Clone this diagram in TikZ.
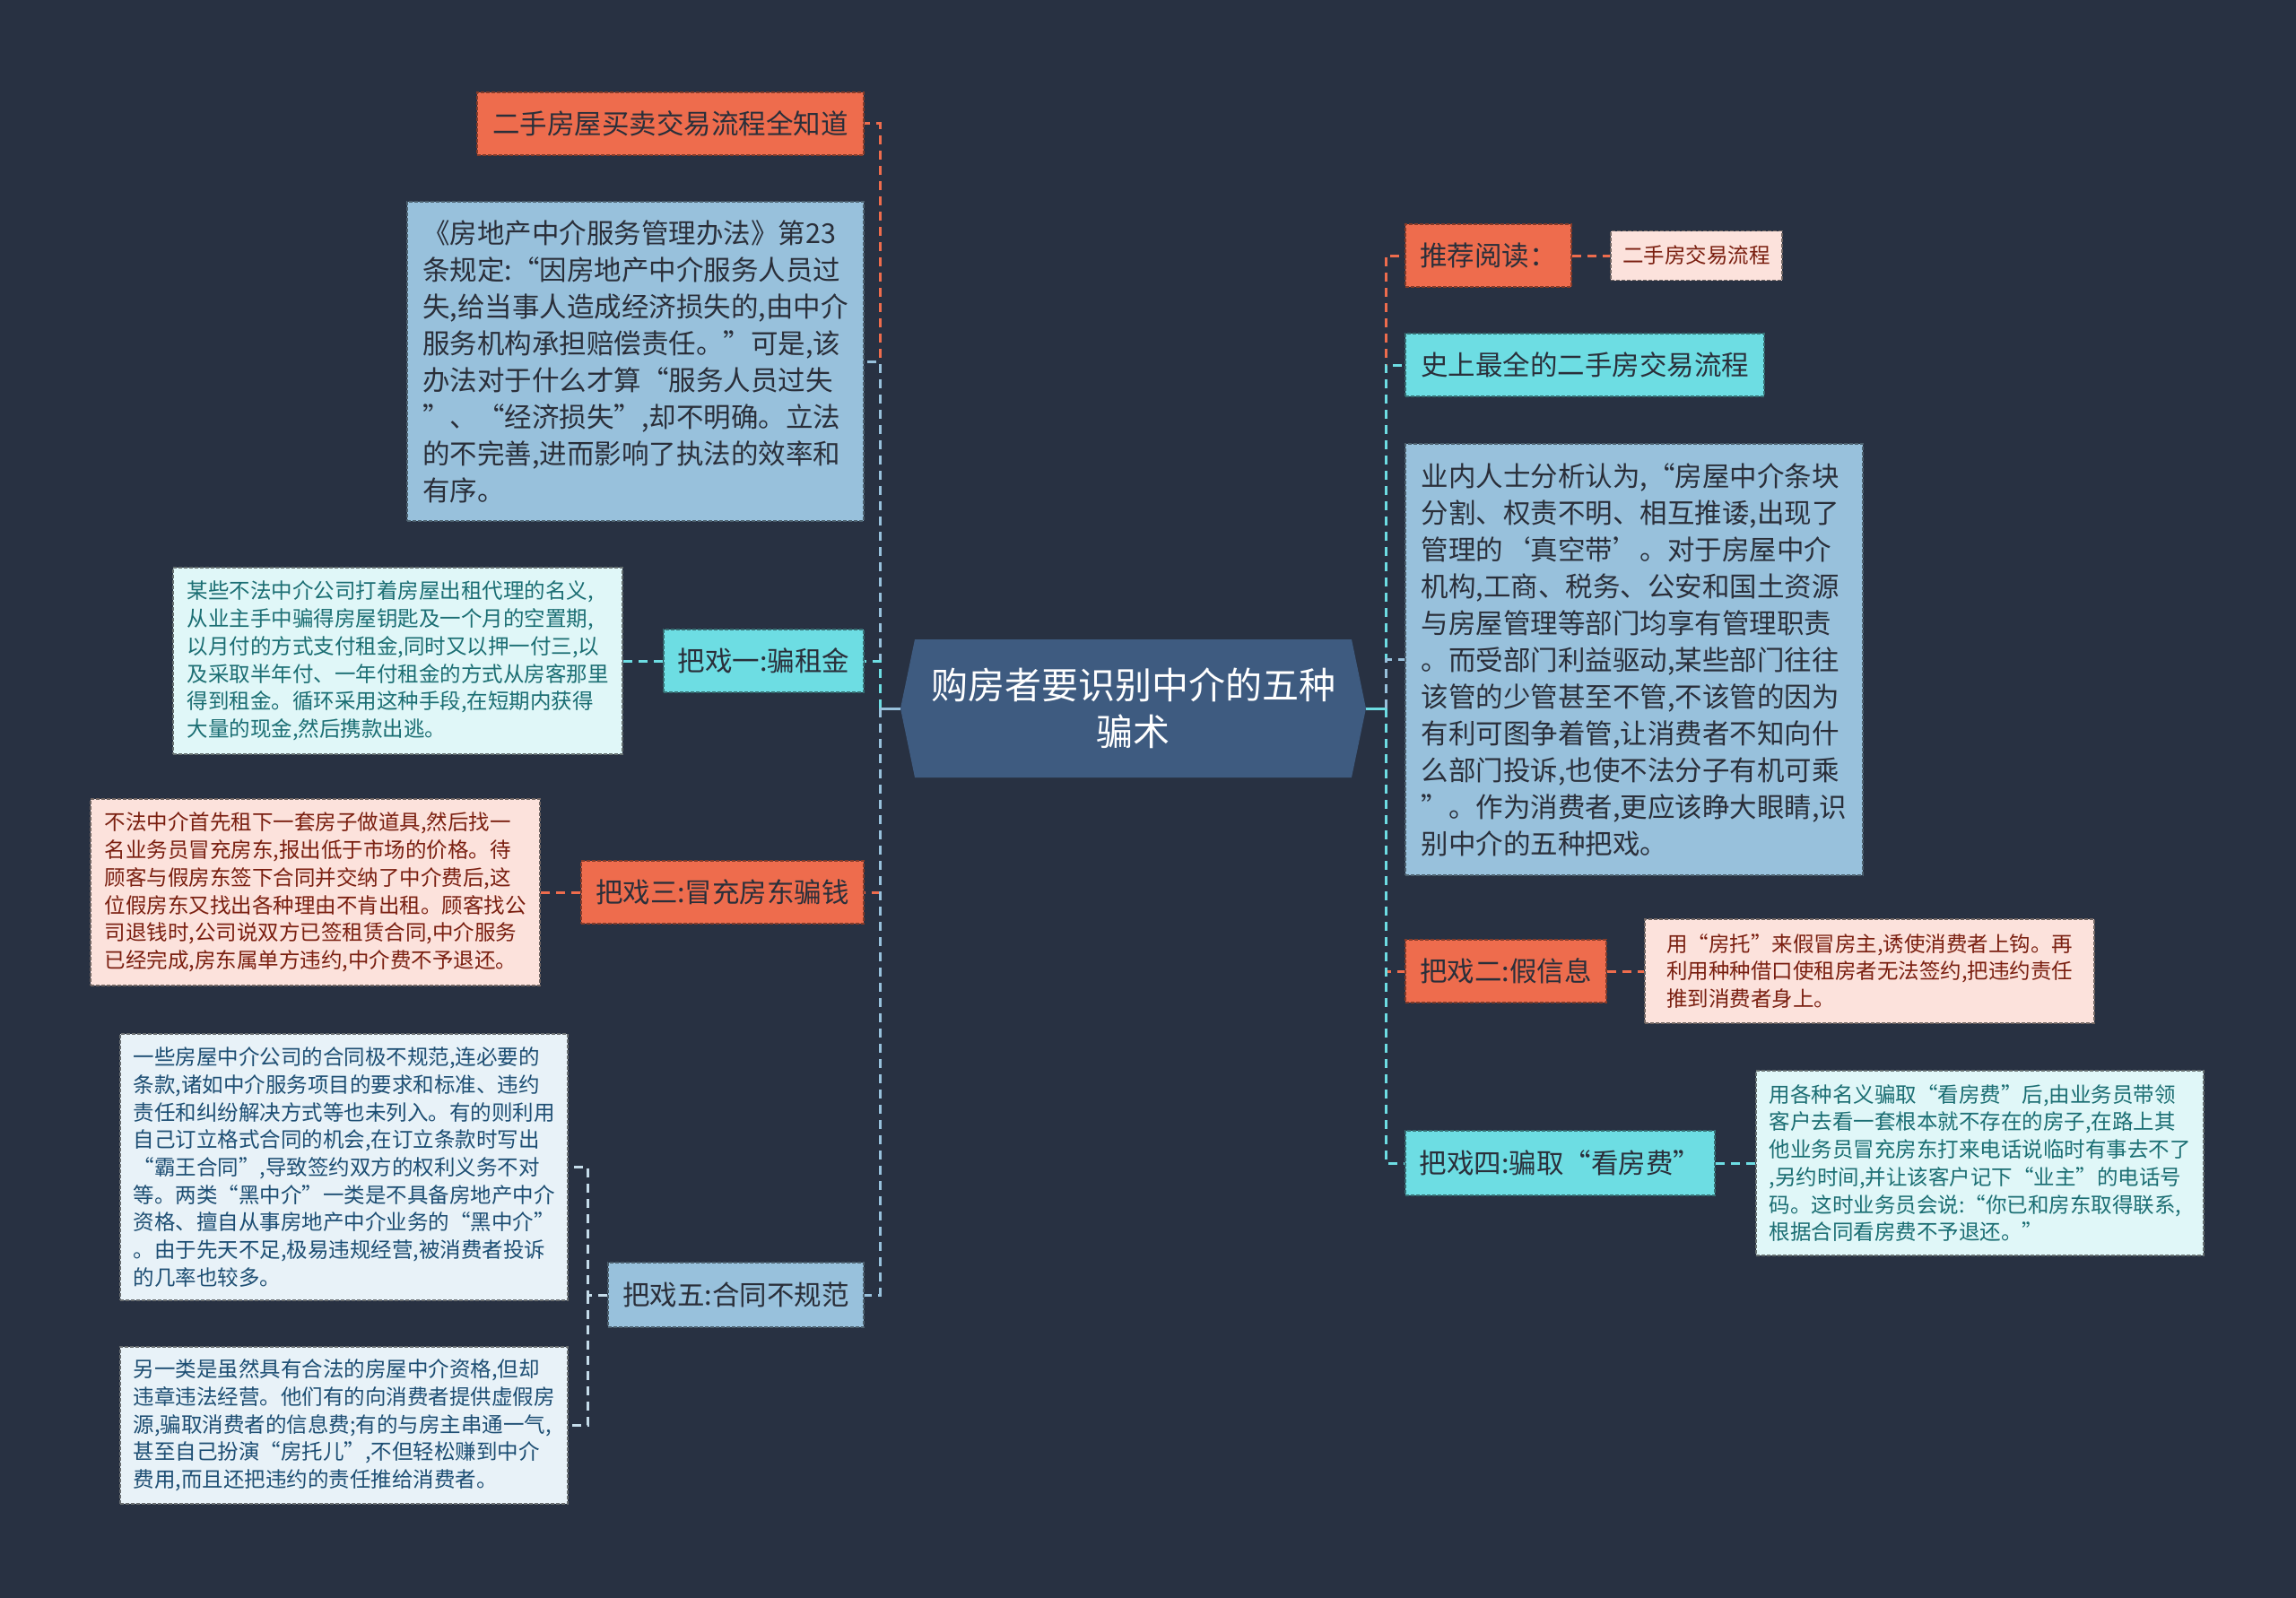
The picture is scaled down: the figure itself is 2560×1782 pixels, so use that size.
\documentclass[tikz,border=0pt]{standalone}
\usepackage{fontspec}
\setmainfont{Noto Sans CJK SC}
\usetikzlibrary{calc}
\definecolor{bgc}{HTML}{283142}
\definecolor{corange}{HTML}{EE6C4D}
\definecolor{ccyan}{HTML}{6DDDE3}
\definecolor{cblue}{HTML}{98C1DC}
\definecolor{cctr}{HTML}{3E5B80}
\definecolor{cpink}{HTML}{FCE2DC}
\definecolor{clcyan}{HTML}{E0F7F8}
\definecolor{clblue}{HTML}{E8F2F8}
\definecolor{cpale}{HTML}{C5DCEA}
\definecolor{tdark}{HTML}{2A2F3A}
\definecolor{tred}{HTML}{7A1F10}
\definecolor{tteal}{HTML}{1B6E73}
\definecolor{tnavy}{HTML}{1D4E73}
\newcommand\fMain{\fontsize{30.5}{41}\selectfont}
\newcommand\fDet{\fontsize{23.5}{30.7}\selectfont}
\newcommand\fCtr{\fontsize{41}{52}\selectfont}
\tikzset{
  box/.style={dash pattern=on 4pt off 2pt, line width=1.3pt, inner sep=0pt, align=left},
  obox/.style={box, fill=corange, draw=corange!55!black, text=tdark, font=\fMain},
  cbox/.style={box, fill=ccyan, draw=ccyan!50!black, text=tdark, font=\fMain},
  bbox/.style={box, fill=cblue, draw=cblue!50!black, text=tdark, font=\fMain},
  pbox/.style={box, fill=cpink, draw=cpink!45!black, text=tred, font=\fDet},
  lcbox/.style={box, fill=clcyan, draw=clcyan!45!black, text=tteal, font=\fDet},
  lbbox/.style={box, fill=clblue, draw=clblue!45!black, text=tnavy, font=\fDet},
  conn/.style={line width=3pt, dash pattern=on 10pt off 7pt},
  solidconn/.style={line width=3pt}
}
\begin{document}
\begin{tikzpicture}[x=1pt,y=-1pt]
\fill[bgc] (0,0) rectangle (2560,1782);
\useasboundingbox (0,0) rectangle (2560,1782);

% center hexagon
\fill[cctr] (1004,790) -- (1020,713) -- (1507,713) -- (1523,790) -- (1507,867) -- (1020,867) -- cycle;
\node[minimum width=519pt, minimum height=154pt, inner sep=0pt, align=center, text=white, font=\fCtr] (c) at (1263.5,790) {购房者要识别中介的五种\\骗术};

% left nodes
\node[obox, minimum width=431pt, minimum height=70pt] (A) at (747.5,138) {二手房屋买卖交易流程全知道};
\node[bbox, minimum width=509pt, minimum height=356pt] (B) at (708.5,403) {《房地产中介服务管理办法》第23\\条规定:“因房地产中介服务人员过\\失,给当事人造成经济损失的,由中介\\服务机构承担赔偿责任。”可是,该\\办法对于什么才算“服务人员过失\\”、“经济损失”,却不明确。立法\\的不完善,进而影响了执法的效率和\\有序。};
\node[cbox, minimum width=223pt, minimum height=70pt] (C) at (851.5,737) {把戏一:骗租金};
\node[lcbox, minimum width=501pt, minimum height=208pt] (D) at (443.5,737) {某些不法中介公司打着房屋出租代理的名义,\\从业主手中骗得房屋钥匙及一个月的空置期,\\以月付的方式支付租金,同时又以押一付三,以\\及采取半年付、一年付租金的方式从房客那里\\得到租金。循环采用这种手段,在短期内获得\\大量的现金,然后携款出逃。};
\node[obox, minimum width=315pt, minimum height=70pt] (E) at (805.5,995) {把戏三:冒充房东骗钱};
\node[pbox, minimum width=501pt, minimum height=208pt] (F) at (351.5,995) {不法中介首先租下一套房子做道具,然后找一\\名业务员冒充房东,报出低于市场的价格。待\\顾客与假房东签下合同并交纳了中介费后,这\\位假房东又找出各种理由不肯出租。顾客找公\\司退钱时,公司说双方已签租赁合同,中介服务\\已经完成,房东属单方违约,中介费不予退还。};
\node[bbox, minimum width=285pt, minimum height=72pt] (G) at (820.5,1444) {把戏五:合同不规范};
\node[lbbox, minimum width=499pt, minimum height=297pt] (H) at (383.5,1301.5) {一些房屋中介公司的合同极不规范,连必要的\\条款,诸如中介服务项目的要求和标准、违约\\责任和纠纷解决方式等也未列入。有的则利用\\自己订立格式合同的机会,在订立条款时写出\\“霸王合同”,导致签约双方的权利义务不对\\等。两类“黑中介”一类是不具备房地产中介\\资格、擅自从事房地产中介业务的“黑中介”\\。由于先天不足,极易违规经营,被消费者投诉\\的几率也较多。};
\node[lbbox, minimum width=499pt, minimum height=175pt] (I) at (383.5,1589.5) {另一类是虽然具有合法的房屋中介资格,但却\\违章违法经营。他们有的向消费者提供虚假房\\源,骗取消费者的信息费;有的与房主串通一气,\\甚至自己扮演“房托儿”,不但轻松赚到中介\\费用,而且还把违约的责任推给消费者。};

% right nodes
\node[obox, minimum width=185pt, minimum height=70pt] (J) at (1659.5,285) {推荐阅读：};
\node[pbox, minimum width=191pt, minimum height=55pt] (K) at (1891.5,285) {二手房交易流程};
\node[cbox, minimum width=400pt, minimum height=70pt] (L) at (1767,407) {史上最全的二手房交易流程};
\node[bbox, minimum width=510pt, minimum height=481pt] (M) at (1822,735.5) {业内人士分析认为,“房屋中介条块\\分割、权责不明、相互推诿,出现了\\管理的‘真空带’。对于房屋中介\\机构,工商、税务、公安和国土资源\\与房屋管理等部门均享有管理职责\\。而受部门利益驱动,某些部门往往\\该管的少管甚至不管,不该管的因为\\有利可图争着管,让消费者不知向什\\么部门投诉,也使不法分子有机可乘\\”。作为消费者,更应该睁大眼睛,识\\别中介的五种把戏。};
\node[obox, minimum width=224pt, minimum height=70pt] (N) at (1679,1083) {把戏二:假信息};
\node[pbox, minimum width=501pt, minimum height=116pt] (O) at (2084.5,1083) {用“房托”来假冒房主,诱使消费者上钩。再\\利用种种借口使租房者无法签约,把违约责任\\推到消费者身上。};
\node[cbox, minimum width=345pt, minimum height=72pt] (P) at (1739.5,1297) {把戏四:骗取“看房费”};
\node[lcbox, minimum width=499pt, minimum height=206pt] (Q) at (2207.5,1297) {用各种名义骗取“看房费”后,由业务员带领\\客户去看一套根本就不存在的房子,在路上其\\他业务员冒充房东打来电话说临时有事去不了\\,另约时间,并让该客户记下“业主”的电话号\\码。这时业务员会说:“你已和房东取得联系,\\根据合同看房费不予退还。”};

% forks
\coordinate (lf) at (981,790);
\coordinate (rf) at (1545,790);
\coordinate (gf) at (655,1444);

% left connectors
\draw[conn, corange] (lf) |- (A.east);
\draw[conn, cblue] (lf) |- (B.east);
\draw[conn, ccyan] (lf) |- (C.east);
\draw[conn, corange] (lf) |- (E.east);
\draw[conn, cblue] (lf) |- (G.east);
\draw[solidconn, cblue] (c.west) -- (lf);
\draw[conn, ccyan] (C.west) -- (D.east);
\draw[conn, corange] (E.west) -- (F.east);
\draw[conn, cpale] (G.west) -- (gf) |- (H.east);
\draw[conn, cpale] (gf) |- (I.east);

% right connectors
\draw[conn, corange] (rf) |- (J.west);
\draw[conn, ccyan] (rf) |- (L.west);
\draw[conn, cblue] (rf) |- (M.west);
\draw[conn, corange] (rf) |- (N.west);
\draw[conn, ccyan] (rf) |- (P.west);
\draw[solidconn, ccyan] (c.east) -- (rf);
\draw[conn, corange] (J.east) -- (K.west);
\draw[conn, corange] (N.east) -- (O.west);
\draw[conn, ccyan] (P.east) -- (Q.west);
\end{tikzpicture}
\end{document}
